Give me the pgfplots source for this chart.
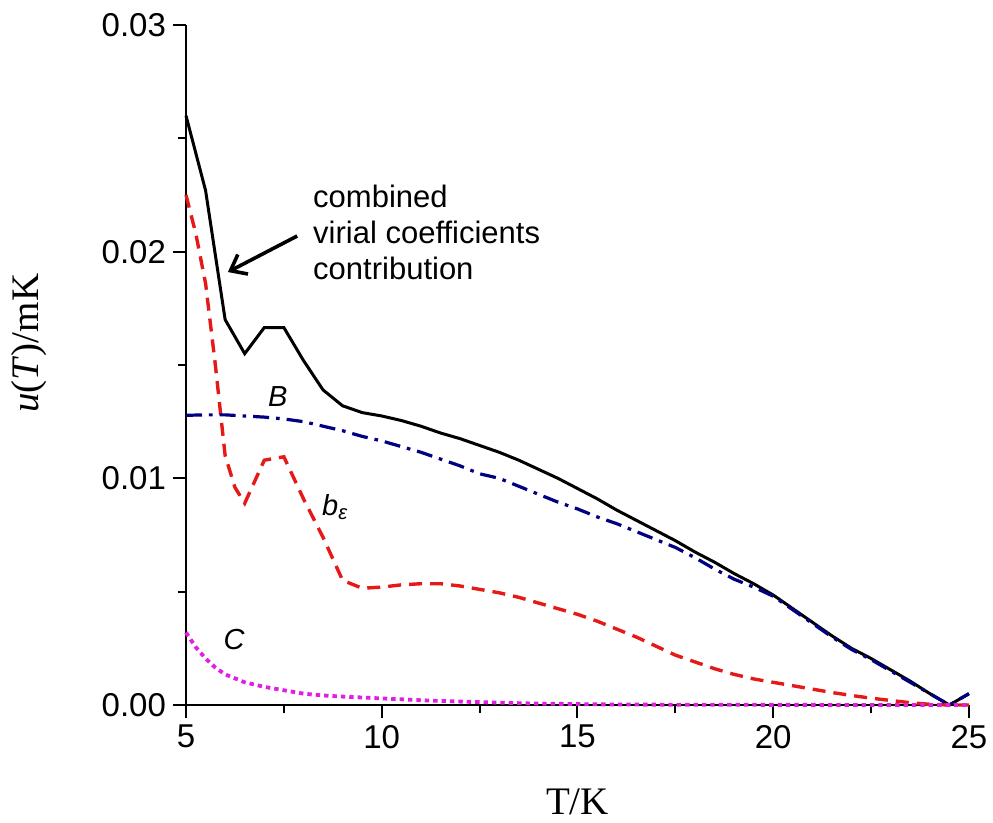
\documentclass[border=0pt]{standalone}
\usepackage{fontspec}
\setmainfont{Liberation Sans}
\newfontfamily\timesfont{Liberation Serif}
\usepackage{pgfplots}
\pgfplotsset{compat=1.18}
\usetikzlibrary{arrows.meta}
\definecolor{navyB}{RGB}{0,0,128}
\definecolor{redE}{RGB}{230,25,25}
\definecolor{magC}{RGB}{225,30,225}
\begin{document}
\begin{tikzpicture}
\begin{axis}[
  width=391.5pt, height=340pt, scale only axis,
  xmin=5, xmax=25, ymin=0, ymax=0.03,
  axis lines*=left,
  axis line style={line width=1pt},
  tick align=outside,
  major tick length=6.5pt, minor tick length=4pt,
  every tick/.style={black, line width=1pt},
  xtick={5,10,15,20,25}, ytick={0,0.01,0.02,0.03},
  minor x tick num=1, minor y tick num=1,
  ticklabel style={font=\fontsize{16.5}{18}\selectfont},
  /pgf/number format/assume math mode=true,
  yticklabel style={/pgf/number format/fixed, /pgf/number format/fixed zerofill, /pgf/number format/precision=2},
  scaled y ticks=false,
  xlabel={T/K}, ylabel={\textit{u}(\textit{T})/mK},
  label style={font=\timesfont\fontsize{19.5}{22}\selectfont},
  xlabel style={at={(axis description cs:0.5,0)}, anchor=base, yshift=-55pt},
  ylabel style={at={(axis description cs:-0.2,0.532)}, anchor=center},
  clip=false,
]
\coordinate (O) at (rel axis cs:0,0);
% combined
\addplot[black, line width=1.5pt] table[row sep=\\] {
x y\\
5 0.0260\\ 5.5 0.0227\\ 6 0.0170\\ 6.5 0.0155\\ 7 0.01665\\ 7.5 0.01665\\
8 0.0152\\ 8.5 0.0139\\ 9 0.0132\\ 9.5 0.0129\\ 10 0.01275\\ 10.5 0.01255\\
11 0.0123\\ 11.5 0.0120\\ 12 0.01175\\ 12.5 0.01145\\ 13 0.01115\\ 13.5 0.0108\\
14 0.0104\\ 14.5 0.0100\\ 15 0.00955\\ 15.5 0.0091\\ 16 0.0086\\ 16.5 0.00815\\
17 0.0077\\ 17.5 0.00725\\ 18 0.00675\\ 18.5 0.0063\\ 19 0.0058\\ 19.5 0.00535\\
20 0.00485\\ 20.5 0.00425\\ 21 0.00365\\ 21.5 0.00305\\ 22 0.0025\\ 22.5 0.00205\\
23 0.00155\\ 23.5 0.00105\\ 24 0.0005\\ 24.5 0.0\\ 25 0.0005\\
};
% b_epsilon
\addplot[redE, line width=1.7pt, dash pattern=on 6.5pt off 4pt] table[row sep=\\] {
x y\\
5 0.0225\\ 5.25 0.0208\\ 5.5 0.0186\\ 5.75 0.0150\\ 6 0.0110\\ 6.25 0.0096\\
6.5 0.0089\\ 7 0.0108\\ 7.5 0.01095\\ 8 0.0091\\ 8.5 0.0074\\ 9 0.0055\\
9.5 0.00515\\ 10 0.0052\\ 10.5 0.0053\\ 11 0.00535\\ 11.5 0.00535\\ 12 0.00525\\
12.5 0.0051\\ 13 0.00495\\ 13.5 0.00475\\ 14 0.0045\\ 14.5 0.00425\\ 15 0.0040\\
15.5 0.0037\\ 16 0.00335\\ 16.5 0.0030\\ 17 0.0026\\ 17.5 0.0022\\ 18 0.0019\\
18.5 0.0016\\ 19 0.00135\\ 19.5 0.00115\\ 20 0.0010\\ 20.5 0.00085\\ 21 0.0007\\
21.5 0.00055\\ 22 0.00042\\ 22.5 0.0003\\ 23 0.0002\\ 23.5 0.0001\\ 24 0.00003\\
24.5 0.0\\ 25 0.0\\
};
% B
\addplot[navyB, line width=1.6pt, dash pattern=on 8pt off 3.5pt on 1.8pt off 3.5pt] table[row sep=\\] {
x y\\
5 0.01278\\ 5.5 0.0128\\ 6 0.0128\\ 6.5 0.01275\\ 7 0.0127\\ 7.5 0.01262\\
8 0.0125\\ 8.5 0.0123\\ 9 0.0121\\ 9.5 0.01185\\ 10 0.01165\\ 10.5 0.0114\\
11 0.01115\\ 11.5 0.01085\\ 12 0.01055\\ 12.5 0.0102\\ 13 0.0100\\ 13.5 0.00965\\
14 0.0093\\ 14.5 0.00895\\ 15 0.00865\\ 15.5 0.0083\\ 16 0.0080\\ 16.5 0.00765\\
17 0.0073\\ 17.5 0.00695\\ 18 0.0065\\ 18.5 0.0060\\ 19 0.00555\\ 19.5 0.0052\\
20 0.0048\\ 20.5 0.0042\\ 21 0.0036\\ 21.5 0.0030\\ 22 0.00245\\ 22.5 0.002\\
23 0.0015\\ 23.5 0.001\\ 24 0.0005\\ 24.5 0.0\\ 25 0.0005\\
};
% C
\addplot[magC, line width=1.9pt, dash pattern=on 2.2pt off 2pt] table[row sep=\\] {
x y\\
5 0.0032\\ 5.25 0.00255\\ 5.5 0.00205\\ 5.75 0.00165\\ 6 0.00135\\ 6.5 0.0010\\
7 0.0008\\ 7.5 0.00065\\ 8 0.0005\\ 8.5 0.00042\\ 9 0.00037\\ 9.5 0.00033\\
10 0.00029\\ 11 0.00021\\ 12 0.00015\\ 13 0.0001\\ 14 0.00006\\ 15 0.00004\\
16 0.00002\\ 18 0.00001\\ 20 0.000005\\ 25 0.0\\
};
\node[anchor=west, inner sep=0pt, align=left, font=\fontsize{15.5}{18}\selectfont] at (axis cs:8.24,0.02086) {combined\\virial coefficients\\contribution};
\draw[line width=1.8pt, -{Straight Barb[length=7pt,width=11pt]}] (axis cs:7.84,0.02069) -- (axis cs:6.07,0.0191);
\node[anchor=base west, inner sep=0pt, font=\itshape\fontsize{14.5}{16}\selectfont] at (axis cs:7.09,0.01315) {B};
\node[anchor=base west, inner sep=0pt, font=\itshape\fontsize{14.5}{16}\selectfont] at (axis cs:8.47,0.00838) {b\textsubscript{ε}};
\node[anchor=base west, inner sep=0pt, font=\itshape\fontsize{14.5}{16}\selectfont] at (axis cs:5.95,0.00247) {C};
\end{axis}
\pgfresetboundingbox
\path ([shift={(-93pt,-59pt)}]O) rectangle ([shift={(403.5pt,352.5pt)}]O);
\end{tikzpicture}
\end{document}
